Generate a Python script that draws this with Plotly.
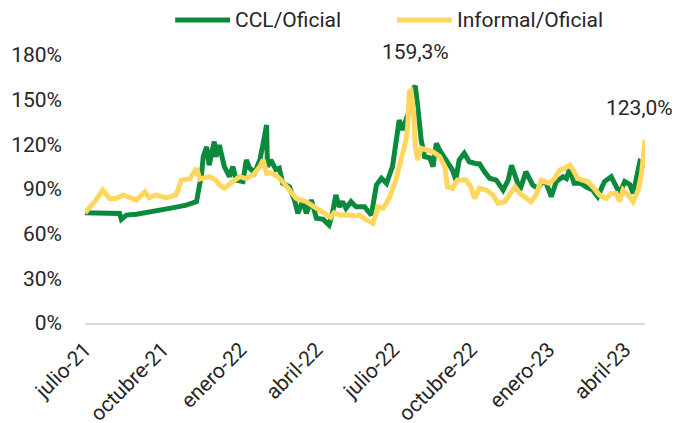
import plotly.graph_objects as go

# ---------------- data (ratio to official FX rate, %) ----------------
ccl_dates = [
    "2021-07-01", "2021-07-18", "2021-08-03", "2021-08-11", "2021-08-13", "2021-08-19",
    "2021-08-31", "2021-09-12", "2021-09-28", "2021-10-09", "2021-10-29", "2021-11-10",
    "2021-11-16", "2021-11-18", "2021-11-22", "2021-11-25", "2021-12-01", "2021-12-03",
    "2021-12-07", "2021-12-13", "2021-12-19", "2021-12-23", "2021-12-27", "2022-01-04",
    "2022-01-08", "2022-01-12", "2022-01-18", "2022-01-24", "2022-01-28", "2022-02-01",
    "2022-02-02", "2022-02-06", "2022-02-12", "2022-02-16", "2022-02-20", "2022-02-28",
    "2022-03-06", "2022-03-10", "2022-03-16", "2022-03-20", "2022-03-26", "2022-04-01",
    "2022-04-09", "2022-04-16", "2022-04-20", "2022-04-24", "2022-04-28", "2022-05-02",
    "2022-05-06", "2022-05-12", "2022-05-18", "2022-05-22", "2022-05-28", "2022-06-05",
    "2022-06-11", "2022-06-17", "2022-06-23", "2022-06-30", "2022-07-04", "2022-07-08",
    "2022-07-12", "2022-07-16", "2022-07-20", "2022-07-24", "2022-07-27", "2022-07-30",
    "2022-08-03", "2022-08-07", "2022-08-13", "2022-08-17", "2022-08-21", "2022-08-25",
    "2022-09-02", "2022-09-09", "2022-09-13", "2022-09-17", "2022-09-23", "2022-09-29",
    "2022-10-07", "2022-10-11", "2022-10-17", "2022-10-23", "2022-10-31", "2022-11-08",
    "2022-11-14", "2022-11-18", "2022-11-24", "2022-11-28", "2022-12-05", "2022-12-13",
    "2022-12-19", "2022-12-25", "2022-12-29", "2023-01-04", "2023-01-10", "2023-01-18",
    "2023-01-22", "2023-01-26", "2023-01-31", "2023-02-08", "2023-02-14", "2023-02-22",
    "2023-02-28", "2023-03-08", "2023-03-16", "2023-03-22", "2023-03-26", "2023-04-01",
    "2023-04-07", "2023-04-11", "2023-04-15", "2023-04-19", "2023-04-23", "2023-04-25",
]
ccl_values = [
    74.0, 73.5, 73.0, 73.5, 69.6, 72.5,
    73.0, 74.0, 76.0, 77.0, 79.2, 81.5,
    100.0, 111.7, 118.4, 106.0, 121.8, 111.7,
    119.5, 105.0, 98.3, 105.0, 96.0, 95.0,
    109.5, 104.0, 101.0, 109.5, 120.7, 133.0,
    105.0, 109.5, 103.0, 104.0, 93.8, 91.5,
    82.6, 73.7, 82.6, 73.7, 82.6, 70.3,
    69.6, 65.8, 73.7, 86.0, 78.0, 81.5,
    77.0, 81.5, 78.0, 78.0, 78.0, 72.5,
    92.7, 97.2, 93.8, 105.0, 122.9, 136.3,
    129.6, 137.5, 143.0, 156.5, 159.3, 145.0,
    122.9, 111.7, 111.0, 105.0, 120.7, 116.0,
    108.3, 102.8, 96.0, 109.5, 114.0, 108.3,
    107.0, 107.0, 101.6, 97.2, 96.0, 89.3,
    96.0, 106.0, 96.0, 89.3, 101.6, 92.7,
    90.5, 95.0, 94.0, 84.8, 95.0, 98.3,
    97.0, 103.9, 93.8, 93.8, 91.5, 89.3,
    84.8, 95.0, 98.3, 91.5, 87.1, 95.0,
    93.0, 87.0, 96.0, 108.3, 107.0, 110.6,
]

inf_dates = [
    "2021-07-01", "2021-07-14", "2021-07-22", "2021-07-30", "2021-08-07", "2021-08-15",
    "2021-08-31", "2021-09-10", "2021-09-15", "2021-09-23", "2021-10-05", "2021-10-17",
    "2021-10-23", "2021-11-02", "2021-11-10", "2021-11-14", "2021-11-25", "2021-12-03",
    "2021-12-07", "2021-12-13", "2021-12-23", "2021-12-31", "2022-01-08", "2022-01-16",
    "2022-01-24", "2022-01-28", "2022-02-01", "2022-02-06", "2022-02-14", "2022-02-20",
    "2022-02-28", "2022-03-08", "2022-03-20", "2022-03-30", "2022-04-09", "2022-04-18",
    "2022-04-22", "2022-04-28", "2022-05-10", "2022-05-18", "2022-05-22", "2022-05-30",
    "2022-06-07", "2022-06-13", "2022-06-19", "2022-06-26", "2022-07-04", "2022-07-10",
    "2022-07-16", "2022-07-18", "2022-07-20", "2022-07-22", "2022-07-25", "2022-07-27",
    "2022-07-30", "2022-08-03", "2022-08-09", "2022-08-17", "2022-08-25", "2022-08-31",
    "2022-09-03", "2022-09-09", "2022-09-15", "2022-09-25", "2022-10-01", "2022-10-05",
    "2022-10-11", "2022-10-19", "2022-10-27", "2022-11-02", "2022-11-10", "2022-11-16",
    "2022-11-22", "2022-11-28", "2022-12-03", "2022-12-11", "2022-12-17", "2022-12-23",
    "2022-12-27", "2023-01-02", "2023-01-08", "2023-01-14", "2023-01-20", "2023-01-26",
    "2023-01-30", "2023-02-04", "2023-02-10", "2023-02-16", "2023-02-22", "2023-03-02",
    "2023-03-10", "2023-03-16", "2023-03-22", "2023-03-26", "2023-03-30", "2023-04-05",
    "2023-04-11", "2023-04-17", "2023-04-21", "2023-04-23", "2023-04-25",
]
inf_values = [
    74.0, 82.6, 89.3, 83.7, 83.7, 86.0,
    82.6, 88.2, 84.0, 86.0, 84.0, 86.0,
    96.0, 96.7, 103.9, 96.7, 98.3, 96.0,
    92.7, 90.5, 95.0, 98.3, 97.0, 99.4,
    105.0, 109.5, 100.5, 101.0, 98.3, 95.0,
    89.3, 83.7, 81.5, 78.0, 73.7, 71.0,
    74.0, 72.5, 72.5, 71.9, 72.5, 69.2,
    67.0, 78.0, 77.0, 83.7, 96.0, 109.5,
    122.9, 131.8, 155.4, 156.0, 143.0, 118.4,
    109.5, 117.3, 116.0, 115.0, 111.7, 105.0,
    91.5, 90.5, 96.0, 96.0, 91.5, 83.7,
    90.5, 89.3, 86.0, 80.4, 81.5, 87.0,
    91.5, 87.0, 85.0, 81.5, 86.0, 96.0,
    95.0, 93.8, 97.2, 102.8, 104.0, 106.0,
    102.8, 97.2, 96.0, 95.0, 91.5, 86.0,
    83.7, 87.0, 87.0, 81.5, 89.3, 86.0,
    81.5, 89.3, 100.5, 111.7, 123.0,
]

series_names = ["CCL/Oficial", "Informal/Oficial"]
series_colors = ["#0B8A3D", "#FFD75E"]

tick_dates = ["2021-07-01", "2021-10-01", "2022-01-01", "2022-04-01",
              "2022-07-01", "2022-10-01", "2023-01-01", "2023-04-01"]
tick_labels = ["julio-21", "octubre-21", "enero-22", "abril-22",
               "julio-22", "octubre-22", "enero-23", "abril-23"]
y_ticks = [0, 30, 60, 90, 120, 150, 180]
y_tick_labels = [f"{v}%" for v in y_ticks]
x_range = ["2021-07-01", "2023-04-25"]

FONT = "Roboto, sans-serif"
TXT = "#262626"
FS = 21

fig = go.Figure()
fig.add_trace(go.Scatter(x=ccl_dates, y=ccl_values, name=series_names[0], mode="lines",
                         line=dict(color=series_colors[0], width=5), showlegend=False))
fig.add_trace(go.Scatter(x=inf_dates, y=inf_values, name=series_names[1], mode="lines",
                         line=dict(color=series_colors[1], width=5), showlegend=False))

def fmt(v):
    return f"{v:.1f}%".replace(".", ",")

peak_i = max(range(len(ccl_values)), key=lambda i: ccl_values[i])
fig.add_annotation(x=ccl_dates[peak_i], y=ccl_values[peak_i], text=fmt(ccl_values[peak_i]),
                   showarrow=False, yshift=34, font=dict(family=FONT, size=FS, color=TXT))
fig.add_annotation(x=inf_dates[-1], y=inf_values[-1], text=fmt(inf_values[-1]),
                   showarrow=False, yshift=32, xshift=-6, font=dict(family=FONT, size=FS, color=TXT))

# legend drawn at the top (sample line + label for each series)
legend_pos = [(0.161, 0.259, 0.264), (0.557, 0.655, 0.661)]
legend_y = 1.131
for name, color, (x0, x1, xt) in zip(series_names, series_colors, legend_pos):
    fig.add_shape(type="line", xref="paper", yref="paper", x0=x0, x1=x1, y0=legend_y, y1=legend_y,
                  line=dict(color=color, width=5))
    fig.add_annotation(xref="paper", yref="paper", x=xt, y=legend_y, text=name, showarrow=False,
                       xanchor="left", yanchor="middle", font=dict(family=FONT, size=FS, color=TXT))

fig.update_layout(
    width=680, height=423,
    margin=dict(l=77, r=43, t=47, b=108),
    paper_bgcolor="white", plot_bgcolor="white",
    font=dict(family=FONT, size=FS, color=TXT),
    showlegend=False,
    xaxis=dict(type="date", range=x_range, tickmode="array", tickvals=tick_dates,
               ticktext=tick_labels, tickangle=-45, showgrid=False, zeroline=False,
               showline=True, linecolor="#D9D9D9", linewidth=2, ticks="", automargin=False,
               ticklabelstandoff=4, tickfont=dict(family=FONT, size=FS, color=TXT)),
    yaxis=dict(range=[0, 180], tickmode="array", tickvals=y_ticks, ticktext=y_tick_labels,
               showgrid=False, zeroline=False, showline=False, ticks="", automargin=False,
               ticklabelstandoff=22, tickfont=dict(family=FONT, size=FS, color=TXT)),
)

fig.write_html("out.html")
